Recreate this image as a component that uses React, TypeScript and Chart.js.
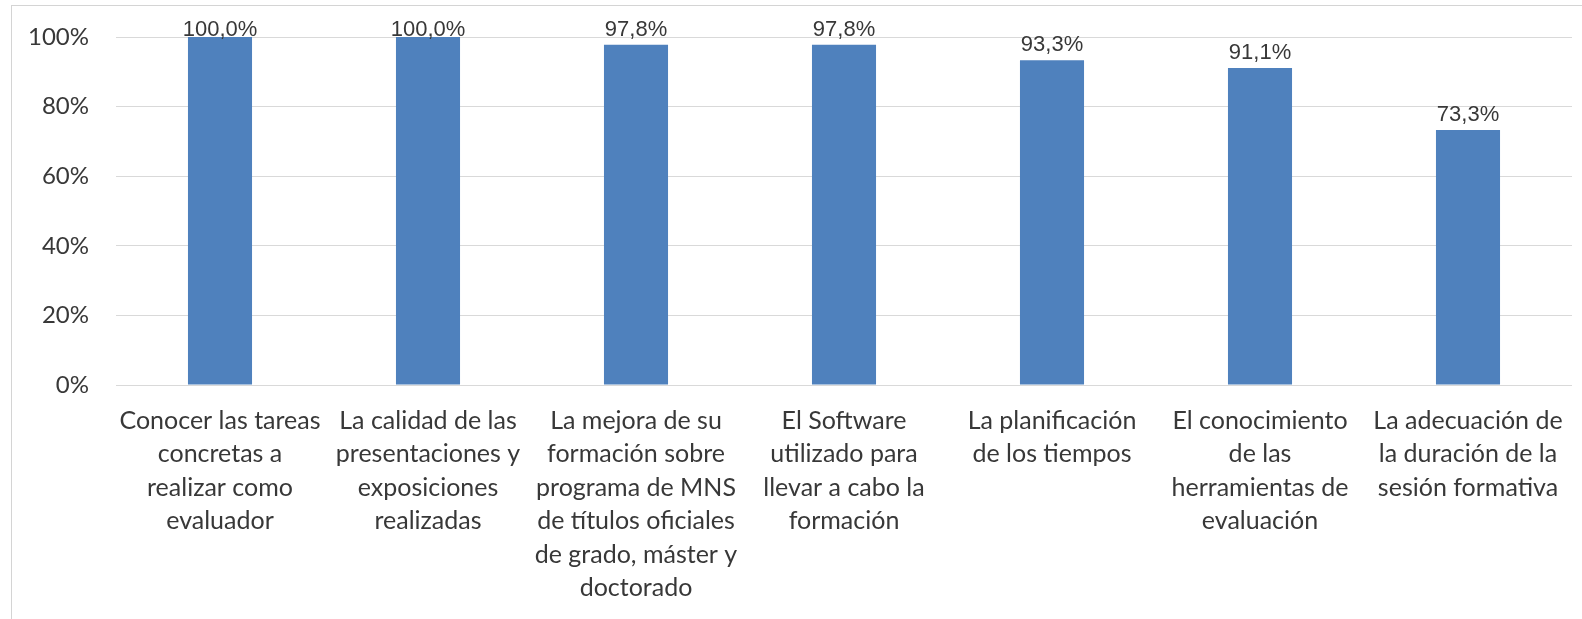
import React, { useEffect, useRef } from "react";
import { Chart, registerables } from "chart.js";

Chart.register(...registerables);

const categories: string[][] = [
  ["Conocer las tareas", "concretas a", "realizar como", "evaluador"],
  ["La calidad de las", "presentaciones y", "exposiciones", "realizadas"],
  ["La mejora de su", "formación sobre", "programa de MNS", "de títulos oficiales", "de grado, máster y", "doctorado"],
  ["El Software", "utilizado para", "llevar a cabo la", "formación"],
  ["La planificación", "de los tiempos"],
  ["El conocimiento", "de las", "herramientas de", "evaluación"],
  ["La adecuación de", "la duración de la", "sesión formativa"],
];

const values: number[] = [100.0, 100.0, 97.8, 97.8, 93.3, 91.1, 73.3];

const yTicks: number[] = [0, 20, 40, 60, 80, 100];

const BAR_COLOR = "#4F81BD";
const TEXT_COLOR = "#383838";
const GRID_COLOR = "#D9D9D9";

const dataLabelPlugin = {
  id: "dataLabels",
  afterDatasetsDraw(chart: any) {
    const { ctx, chartArea } = chart;
    const meta = chart.getDatasetMeta(0);
    ctx.save();
    ctx.font = '22px "Liberation Sans", Arial, sans-serif';
    ctx.fillStyle = TEXT_COLOR;
    ctx.textAlign = "center";
    ctx.textBaseline = "alphabetic";
    meta.data.forEach((bar: any, i: number) => {
      const v = values[i];
      const txt = v.toFixed(1).replace(".", ",") + "%";
      const y = Math.max(chartArea.top - 1, bar.y - 9);
      ctx.fillText(txt, bar.x, y);
    });
    ctx.restore();
  },
};

export default function App() {
  const canvasRef = useRef<HTMLCanvasElement | null>(null);

  useEffect(() => {
    const canvas = canvasRef.current;
    if (!canvas) return;
    const chart = new Chart(canvas, {
      type: "bar",
      data: {
        labels: categories,
        datasets: [
          {
            data: values,
            backgroundColor: BAR_COLOR,
            borderWidth: 0,
            categoryPercentage: 1,
            barPercentage: 0.308,
          },
        ],
      },
      options: {
        animation: false,
        responsive: false,
        devicePixelRatio: 1,
        layout: { padding: { top: 37, right: 10, bottom: 0, left: 0 } },
        plugins: {
          legend: { display: false },
          tooltip: { enabled: false },
        },
        scales: {
          x: {
            grid: { display: false, drawTicks: false },
            border: { display: false },
            ticks: {
              color: TEXT_COLOR,
              font: { family: "Lato, sans-serif", size: 25, lineHeight: "33.5px" },
              padding: 19,
              maxRotation: 0,
              autoSkip: false,
            },
            afterFit(scale: any) {
              scale.height = 234;
              scale.paddingLeft = 0;
              scale.paddingRight = 0;
            },
          },
          y: {
            min: 0,
            max: 100,
            afterBuildTicks(scale: any) {
              scale.ticks = yTicks.map((v) => ({ value: v }));
            },
            grid: { color: GRID_COLOR, lineWidth: 1, drawTicks: false },
            border: { display: false },
            ticks: {
              color: TEXT_COLOR,
              font: { family: "Lato, sans-serif", size: 24 },
              padding: 27,
              callback: (v: any) => v + "%",
            },
            afterFit(scale: any) {
              scale.width = 116;
              scale.paddingTop = 0;
              scale.paddingBottom = 0;
            },
          },
        },
      },
      plugins: [dataLabelPlugin],
    });
    return () => chart.destroy();
  }, []);

  return (
    <div
      style={{
        position: "absolute",
        left: 0,
        top: 0,
        width: 1582,
        height: 619,
        overflow: "hidden",
        background: "#ffffff",
      }}
    >
      <div
        style={{
          position: "absolute",
          left: 11,
          top: 5,
          width: 1700,
          height: 800,
          border: "1px solid #D4D4D4",
        }}
      />
      <canvas
        ref={canvasRef}
        width={1582}
        height={619}
        style={{ position: "absolute", left: 0, top: 0, width: 1582, height: 619 }}
      />
    </div>
  );
}
